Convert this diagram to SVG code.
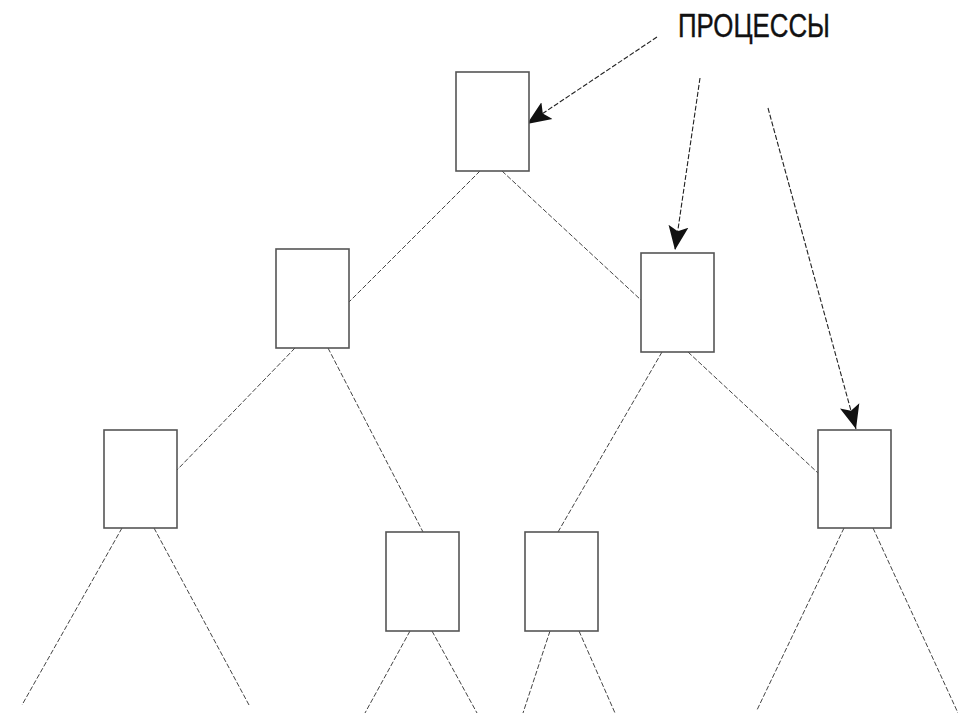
<svg xmlns="http://www.w3.org/2000/svg" width="958" height="713" viewBox="0 0 958 713">
<defs>
<style>
.box{fill:#fff;stroke:#555;stroke-width:1.6}
.edge{fill:none;stroke:#444;stroke-width:1;stroke-dasharray:5,2}
.ptr{fill:none;stroke:#222;stroke-width:1.1;stroke-dasharray:5,2}
.lbl{font-family:"Liberation Sans",Arial,sans-serif;font-size:33px;fill:#111;stroke:#111;stroke-width:0.4}
</style>
<marker id="ah" markerUnits="userSpaceOnUse" markerWidth="26" markerHeight="22" viewBox="0 0 26 22" refX="24" refY="11" orient="auto">
<path d="M0,1 L24,11 L0,21 L5,11 Z" fill="#111"/>
</marker>
</defs>
<rect width="958" height="713" fill="#fff"/>
<g id="connectors">
<line class="edge" x1="480" y1="171" x2="349" y2="302"/>
<line class="edge" x1="502" y1="171" x2="641" y2="300"/>
<line class="edge" x1="295" y1="348" x2="177" y2="470"/>
<line class="edge" x1="328" y1="348" x2="423" y2="532"/>
<line class="edge" x1="662" y1="352" x2="558" y2="532"/>
<line class="edge" x1="688" y1="352" x2="818" y2="473"/>
<line class="edge" x1="122" y1="528" x2="22" y2="705"/>
<line class="edge" x1="154" y1="528" x2="249" y2="705"/>
<line class="edge" x1="410" y1="631" x2="365" y2="713"/>
<line class="edge" x1="432" y1="631" x2="477" y2="713"/>
<line class="edge" x1="550" y1="631" x2="523" y2="713"/>
<line class="edge" x1="579" y1="631" x2="615" y2="713"/>
<line class="edge" x1="844" y1="528" x2="757" y2="710"/>
<line class="edge" x1="873" y1="528" x2="958" y2="713"/>
<line class="ptr" x1="657" y1="37" x2="527" y2="124" marker-end="url(#ah)"/>
<line class="ptr" x1="700" y1="78" x2="675" y2="250" marker-end="url(#ah)"/>
<line class="ptr" x1="768" y1="108" x2="856" y2="429" marker-end="url(#ah)"/>
</g>
<g id="n-root"><rect class="box" x="456" y="72" width="73" height="99"/></g>
<g id="n-l"><rect class="box" x="276" y="249" width="73" height="99"/></g>
<g id="n-r"><rect class="box" x="641" y="253" width="73" height="99"/></g>
<g id="n-ll"><rect class="box" x="104" y="430" width="73" height="98"/></g>
<g id="n-lr"><rect class="box" x="386" y="532" width="73" height="99"/></g>
<g id="n-rl"><rect class="box" x="525" y="532" width="73" height="99"/></g>
<g id="n-rr"><rect class="box" x="818" y="430" width="73" height="98"/></g>
<g id="label"><text class="lbl" x="678" y="37" textLength="152" lengthAdjust="spacingAndGlyphs">ПРОЦЕССЫ</text></g>
</svg>
